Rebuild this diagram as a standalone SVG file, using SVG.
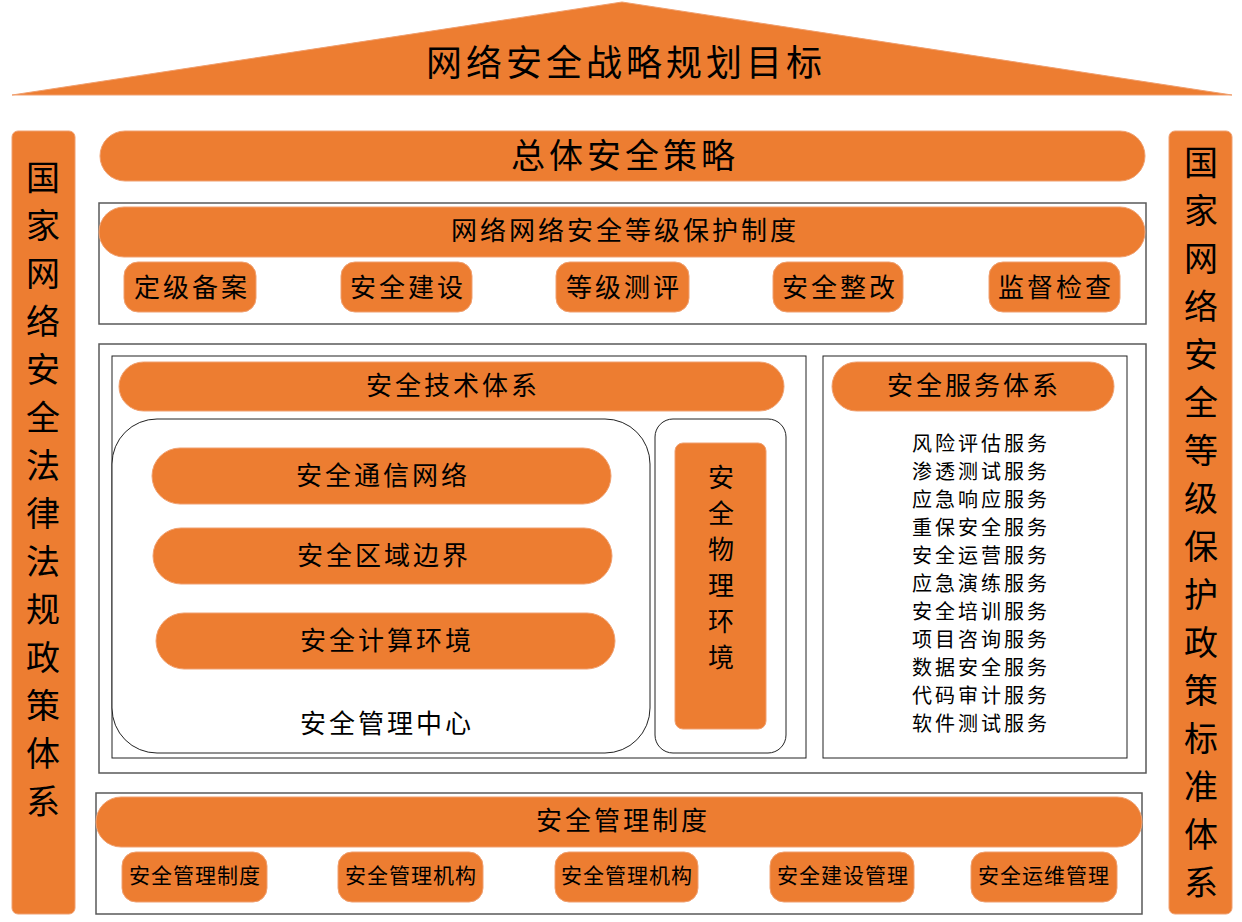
<svg xmlns="http://www.w3.org/2000/svg" width="1242" height="922" viewBox="0 0 1242 922">
<style>
.o{fill:#ED7D31;stroke:#F0A070;stroke-width:1}
.box{fill:none;stroke:#595959;stroke-width:1.5}
.ibox{fill:#fff;stroke:#222;stroke-width:1}
text{font-family:"Noto Sans CJK SC","Noto Sans",sans-serif;fill:#000;text-anchor:middle;dominant-baseline:central}
.t36{font-size:36px;letter-spacing:4px}
.t34{font-size:34px;letter-spacing:4px}
.t26{font-size:26px;letter-spacing:3px}
.t20{font-size:20px;letter-spacing:3px}
.t21{font-size:21px;letter-spacing:1px}
.v34{font-size:34px}
.v26{font-size:26px}
</style>
<rect width="1242" height="922" fill="#fff"/>
<g id="roof">
<polygon class="o" points="12,95 622,2 1232,95"/>
<text class="t36" x="626" y="60">网络安全战略规划目标</text>
</g>
<g id="law-column">
<rect class="o" x="12" y="131" width="63" height="783" rx="6"/>
<text class="v34"><tspan x="43" y="175">国</tspan><tspan x="43" y="223">家</tspan><tspan x="43" y="271">网</tspan><tspan x="43" y="319">络</tspan><tspan x="43" y="367">安</tspan><tspan x="43" y="415">全</tspan><tspan x="43" y="463">法</tspan><tspan x="43" y="511">律</tspan><tspan x="43" y="559">法</tspan><tspan x="43" y="607">规</tspan><tspan x="43" y="655">政</tspan><tspan x="43" y="703">策</tspan><tspan x="43" y="751">体</tspan><tspan x="43" y="799">系</tspan></text>
</g>
<g id="standard-column">
<rect class="o" x="1169" y="131" width="63" height="783" rx="6"/>
<text class="v34"><tspan x="1201" y="160">国</tspan><tspan x="1201" y="208">家</tspan><tspan x="1201" y="256">网</tspan><tspan x="1201" y="304">络</tspan><tspan x="1201" y="352">安</tspan><tspan x="1201" y="400">全</tspan><tspan x="1201" y="448">等</tspan><tspan x="1201" y="496">级</tspan><tspan x="1201" y="544">保</tspan><tspan x="1201" y="592">护</tspan><tspan x="1201" y="640">政</tspan><tspan x="1201" y="688">策</tspan><tspan x="1201" y="736">标</tspan><tspan x="1201" y="784">准</tspan><tspan x="1201" y="832">体</tspan><tspan x="1201" y="880">系</tspan></text>
</g>
<g id="overall-strategy">
<rect class="o" x="100" y="131" width="1045" height="50" rx="25"/>
<text class="t34" x="625" y="153">总体安全策略</text>
</g>
<g id="level-protection">
<rect class="box" x="99" y="203" width="1047" height="121"/>
<rect class="o" x="99" y="207" width="1046" height="50" rx="25"/>
<text class="t26" x="625" y="228">网络网络安全等级保护制度</text>
<rect class="o" x="124" y="262" width="132" height="50" rx="14"/>
<text class="t26" x="192" y="285">定级备案</text>
<rect class="o" x="341" y="262" width="131" height="50" rx="14"/>
<text class="t26" x="408" y="285">安全建设</text>
<rect class="o" x="556" y="262" width="133" height="50" rx="14"/>
<text class="t26" x="624" y="285">等级测评</text>
<rect class="o" x="773" y="262" width="130" height="50" rx="14"/>
<text class="t26" x="840" y="285">安全整改</text>
<rect class="o" x="989" y="262" width="131" height="50" rx="14"/>
<text class="t26" x="1056" y="285">监督检查</text>
</g>
<g id="middle">
<rect class="box" x="99" y="344" width="1047" height="429"/>
</g>
<g id="tech-system">
<rect class="ibox" x="112" y="356" width="694" height="402"/>
<rect class="o" x="119" y="362" width="665" height="49" rx="24.5"/>
<text class="t26" x="453" y="383">安全技术体系</text>
</g>
<g id="mgmt-center">
<rect class="ibox" x="112" y="419" width="538" height="334" rx="45"/>
<rect class="o" x="152" y="448" width="459" height="56" rx="28"/>
<text class="t26" x="383" y="473">安全通信网络</text>
<rect class="o" x="153" y="528" width="459" height="56" rx="28"/>
<text class="t26" x="384" y="553">安全区域边界</text>
<rect class="o" x="156" y="613" width="459" height="56" rx="28"/>
<text class="t26" x="387" y="638">安全计算环境</text>
<text class="t26" x="387" y="721">安全管理中心</text>
</g>
<g id="physical-env">
<rect class="ibox" x="655" y="419" width="131" height="334" rx="18"/>
<rect class="o" x="675" y="443" width="91" height="286" rx="8"/>
<text class="v26"><tspan x="721" y="475">安</tspan><tspan x="721" y="511">全</tspan><tspan x="721" y="547">物</tspan><tspan x="721" y="583">理</tspan><tspan x="721" y="619">环</tspan><tspan x="721" y="655">境</tspan></text>
</g>
<g id="service-system">
<rect class="ibox" x="823" y="356" width="304" height="402"/>
<rect class="o" x="832" y="362" width="282" height="49" rx="24.5"/>
<text class="t26" x="974" y="383">安全服务体系</text>
<text class="t20"><tspan x="981" y="442">风险评估服务</tspan><tspan x="981" y="470">渗透测试服务</tspan><tspan x="981" y="498">应急响应服务</tspan><tspan x="981" y="526">重保安全服务</tspan><tspan x="981" y="554">安全运营服务</tspan><tspan x="981" y="582">应急演练服务</tspan><tspan x="981" y="610">安全培训服务</tspan><tspan x="981" y="638">项目咨询服务</tspan><tspan x="981" y="666">数据安全服务</tspan><tspan x="981" y="694">代码审计服务</tspan><tspan x="981" y="722">软件测试服务</tspan></text>
</g>
<g id="mgmt-system">
<rect class="box" x="96" y="793" width="1046" height="121"/>
<rect class="o" x="96" y="797" width="1046" height="50" rx="25"/>
<text class="t26" x="623" y="818">安全管理制度</text>
<rect class="o" x="122" y="852" width="145" height="50" rx="14"/>
<text class="t21" x="195" y="874">安全管理制度</text>
<rect class="o" x="338" y="852" width="145" height="50" rx="14"/>
<text class="t21" x="411" y="874">安全管理机构</text>
<rect class="o" x="555" y="852" width="143" height="50" rx="14"/>
<text class="t21" x="627" y="874">安全管理机构</text>
<rect class="o" x="770" y="852" width="144" height="50" rx="14"/>
<text class="t21" x="843" y="874">安全建设管理</text>
<rect class="o" x="971" y="852" width="146" height="50" rx="14"/>
<text class="t21" x="1044" y="874">安全运维管理</text>
</g>
</svg>
